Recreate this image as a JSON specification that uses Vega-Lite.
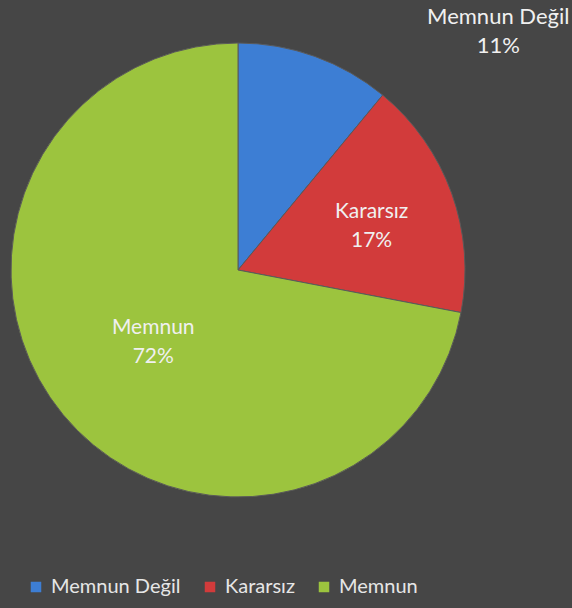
{
  "$schema": "https://vega.github.io/schema/vega-lite/v6.json",
  "autosize": {"type": "none"},
  "width": 456,
  "height": 456,
  "padding": {"left": 10, "top": 42, "right": 106, "bottom": 110},
  "background": "#464646",
  "config": {"view": {"stroke": null}, "font": "Lato"},
  "data": {"values": [
    {"cat": "Memnun Değil", "value": 0.11, "o": 1},
    {"cat": "Kararsız", "value": 0.17, "o": 2},
    {"cat": "Memnun", "value": 0.72, "o": 3}
  ]},
  "encoding": {
    "theta": {"field": "value", "type": "quantitative", "stack": true},
    "order": {"field": "o", "type": "ordinal"}
  },
  "layer": [
    {
      "mark": {"type": "arc", "outerRadius": 227, "stroke": "#5a5a5a", "strokeWidth": 1},
      "encoding": {
        "color": {
          "field": "cat", "type": "nominal",
          "scale": {"domain": ["Memnun Değil", "Kararsız", "Memnun"], "range": ["#3d7ed4", "#d23b3b", "#9cc43e"]},
          "legend": {
            "orient": "none", "direction": "horizontal", "legendX": 16, "legendY": 535,
            "title": null, "symbolType": "square", "symbolSize": 110, "symbolStrokeWidth": 0,
            "labelFontSize": 20, "labelColor": "#e6e6e6", "labelFont": "Lato",
            "columnPadding": 19, "labelOffset": 5
          }
        }
      }
    },
    {
      "mark": {"type": "text", "radius": 142, "dy": -10, "fontSize": 21, "fill": "#f0f0f0"},
      "encoding": {"detail": {"field": "cat"}, "text": {"condition": {"test": "datum.cat === 'Kararsız'", "field": "cat"}, "value": ""}}
    },
    {
      "mark": {"type": "text", "radius": 142, "dy": 19, "fontSize": 21, "fill": "#f0f0f0"},
      "encoding": {"detail": {"field": "cat"}, "text": {"condition": {"test": "datum.cat === 'Kararsız'", "field": "value", "format": ".0%"}, "value": ""}}
    },
    {
      "mark": {"type": "text", "radius": 110, "dy": -12, "fontSize": 21, "fill": "#f0f0f0"},
      "encoding": {"detail": {"field": "cat"}, "text": {"condition": {"test": "datum.cat === 'Memnun'", "field": "cat"}, "value": ""}}
    },
    {
      "mark": {"type": "text", "radius": 110, "dy": 17, "fontSize": 21, "fill": "#f0f0f0"},
      "encoding": {"detail": {"field": "cat"}, "text": {"condition": {"test": "datum.cat === 'Memnun'", "field": "value", "format": ".0%"}, "value": ""}}
    },
    {
      "mark": {"type": "text", "radius": 228, "dx": 183, "dy": -38, "fontSize": 22, "fill": "#f0f0f0"},
      "encoding": {"detail": {"field": "cat"}, "text": {"condition": {"test": "datum.cat === 'Memnun Değil'", "field": "cat"}, "value": ""}}
    },
    {
      "mark": {"type": "text", "radius": 228, "dx": 183, "dy": -9, "fontSize": 22, "fill": "#f0f0f0"},
      "encoding": {"detail": {"field": "cat"}, "text": {"condition": {"test": "datum.cat === 'Memnun Değil'", "field": "value", "format": ".0%"}, "value": ""}}
    }
  ]
}
